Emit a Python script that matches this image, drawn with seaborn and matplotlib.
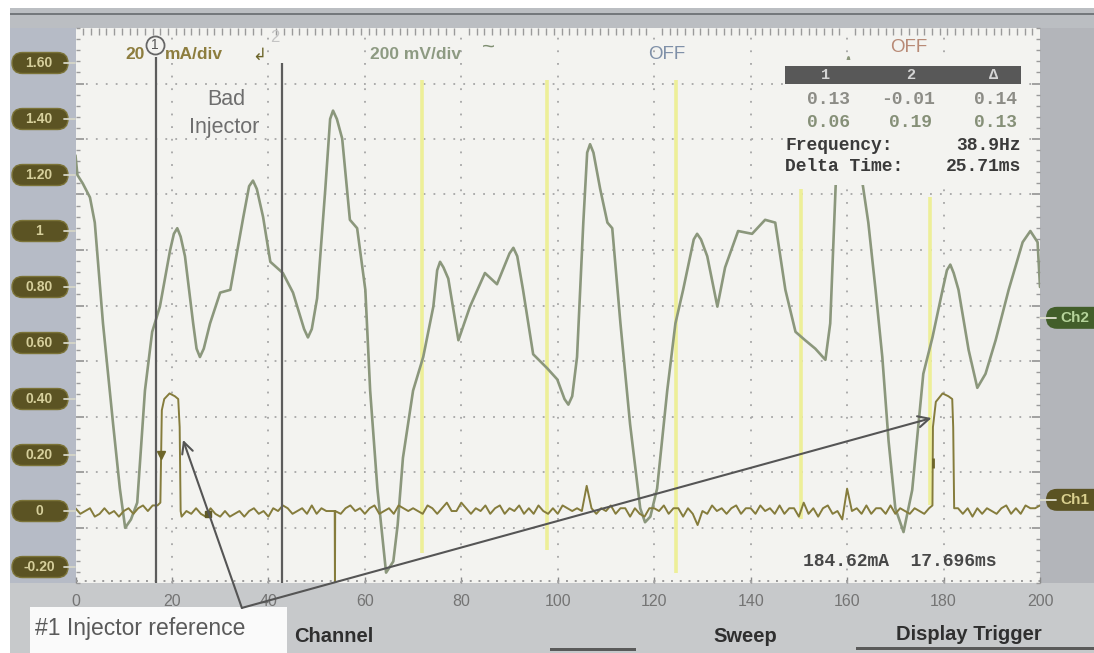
import numpy as np
import matplotlib
matplotlib.use("Agg")
import matplotlib.pyplot as plt
import seaborn as sns
from matplotlib.patches import Rectangle, FancyBboxPatch
from matplotlib.lines import Line2D
from matplotlib.transforms import IdentityTransform
from matplotlib.ticker import FixedLocator, MultipleLocator

# ---------------- data ----------------
ch2_x = [0.0, 0.4, 1.5, 3.0, 4.0, 5.7, 7.8, 9.2, 10.3, 11.5, 12.8, 14.4, 15.9, 17.5,
         19.6, 20.4, 21.1, 21.8, 22.7, 24.4, 25.1, 25.8, 26.6, 27.9, 30.0, 32.1, 34.8,
         36.0, 36.8, 37.6, 38.9, 40.4, 43.0, 45.1, 47.4, 48.2, 49.0, 50.1, 51.8, 52.8,
         53.4, 54.2, 55.3, 56.9, 58.4, 60.1, 61.1, 62.6, 64.4, 65.9, 66.8, 67.9, 70.0,
         72.1, 74.2, 75.0, 75.6, 76.3, 77.3, 79.4, 81.8, 84.9, 87.4, 90.0, 90.8, 91.6,
         92.8, 94.9, 97.8, 99.9, 101.4, 102.2, 103.0, 104.0, 105.3, 106.1, 106.7, 107.4,
         108.8, 110.3, 111.3, 113.0, 115.0, 117.1, 118.1, 119.2, 120.6, 122.7, 124.4,
         126.0, 128.2, 128.9, 129.7, 131.0, 133.1, 134.7, 137.4, 140.3, 143.0, 145.1,
         147.2, 149.3, 151.3, 153.4, 155.5, 156.5, 157.6, 158.5, 160.3, 162.3, 163.2,
         164.4, 165.9, 167.3, 168.6, 170.0, 171.7, 173.5, 174.8, 175.8, 177.7, 179.8,
         180.7, 181.4, 182.1, 183.1, 185.2, 187.0, 188.7, 190.8, 193.5, 196.4, 198.0,
         199.5, 200.0]
ch2_v = [1.27, 1.20, 1.17, 1.12, 1.03, 0.67, 0.31, 0.08, -0.06, -0.03, 0.03, 0.43, 0.64, 0.73,
         0.93, 0.99, 1.01, 0.98, 0.91, 0.67, 0.58, 0.55, 0.58, 0.67, 0.78, 0.79, 1.05,
         1.16, 1.18, 1.15, 1.05, 0.89, 0.85, 0.78, 0.65, 0.62, 0.65, 0.76, 1.15, 1.40,
         1.43, 1.40, 1.33, 1.04, 1.01, 0.79, 0.43, 0.08, -0.22, -0.18, -0.05, 0.19, 0.43,
         0.55, 0.73, 0.86, 0.89, 0.87, 0.83, 0.61, 0.73, 0.85, 0.81, 0.92, 0.94, 0.91,
         0.79, 0.56, 0.51, 0.47, 0.40, 0.38, 0.41, 0.55, 1.03, 1.28, 1.31, 1.28,
         1.15, 1.03, 1.01, 0.67, 0.31, 0.01, -0.04, -0.02, 0.08, 0.43, 0.67,
         0.79, 0.97, 0.99, 0.97, 0.91, 0.73, 0.87, 1.00, 0.99, 1.04, 1.03,
         0.79, 0.64, 0.61, 0.58, 0.54, 0.67, 1.15, 1.50, 1.62, 1.45, 1.17,
         1.03, 0.79, 0.55, 0.25, 0.01, -0.075, 0.075, 0.31, 0.49, 0.62, 0.79,
         0.86, 0.88, 0.85, 0.79, 0.575, 0.44, 0.49, 0.61, 0.79, 0.96, 1.00,
         0.96, 0.80]

# Ch1 (injector current): noisy baseline segments sampled every 1 unit + pulses
seg_a = [0.01, -0.01, 0.00, 0.01, -0.02, -0.01, 0.01, -0.01, 0.00, -0.02, 0.00, 0.01,
         -0.01, 0.01, 0.02, 0.00, 0.02, 0.02]                                    # x 0..17
pulse1_x = [17.6, 17.75, 17.9, 18.4, 19.5, 20.6, 21.3, 21.6, 21.8]
pulse1_v = [0.03, 0.20, 0.36, 0.40, 0.42, 0.41, 0.40, 0.30, 0.00]
seg_b = [-0.02, 0.00, -0.01, 0.01, -0.01, -0.02, 0.01, -0.01, -0.02, 0.00, -0.02, -0.01,
         0.00, -0.02, 0.00, 0.01, -0.01, 0.00, -0.02, 0.01, 0.00, 0.02, 0.01, -0.01,
         0.00, 0.01, -0.01, 0.02, -0.01, 0.01, 0.00, 0.00]                       # x 22..53
spike_x = [53.75, 53.8, 53.85]
spike_v = [0.00, -0.27, 0.00]
seg_c = [-0.01, 0.01, 0.02, 0.00, 0.01, -0.01, 0.01, 0.02, -0.01, 0.00,
         0.01, -0.01, 0.02, 0.01, 0.00, 0.01, 0.00, -0.01, 0.02, 0.01,
         -0.01, 0.01, 0.03, 0.00, 0.00, 0.03, 0.01, -0.01, 0.01, 0.00,
         0.02, -0.01, 0.01, 0.02, -0.01, 0.01, 0.00, 0.02, -0.01, 0.01,
         -0.01, 0.02, 0.00, -0.01, 0.01, -0.01, 0.02, 0.01, 0.00, 0.01,
         0.00, 0.09, 0.01, -0.01, 0.01, 0.00, 0.02, -0.01, 0.01, 0.01,
         -0.02, 0.01, -0.01, -0.02, 0.01, 0.01, 0.00, 0.02, -0.01, 0.01,
         0.01, -0.02, 0.01, -0.01, -0.05, 0.00, -0.01, 0.02, 0.00, 0.01,
         -0.01, 0.01, 0.02, -0.01, 0.01, 0.01, -0.01, 0.02, 0.00, 0.01,
         -0.01, 0.02, -0.01, 0.01, 0.01, -0.02, 0.03, -0.01, 0.01, -0.02,
         0.01, 0.02, -0.01, 0.00, -0.03, 0.08, 0.00, 0.01, -0.01, 0.02,
         -0.01, 0.01, 0.01, -0.01, 0.02, -0.01, 0.01, 0.00, -0.01, 0.01,
         0.00, -0.01, 0.01]                                                        # x 55..177
pulse2_x = [177.7, 177.8, 178.0, 178.4, 179.8, 181.0, 181.8, 182.0, 182.2]
pulse2_v = [0.02, 0.30, 0.33, 0.39, 0.42, 0.41, 0.40, 0.30, 0.01]
seg_d = [0.01, -0.01, 0.01, -0.02, 0.01, -0.01, 0.01, 0.00, -0.01, 0.01, 0.02, -0.01,
         0.01, -0.01, 0.02, 0.01, 0.01, 0.02]                                    # x 183..200

y_label_vals = [1.6, 1.4, 1.2, 1.0, 0.8, 0.6, 0.4, 0.2, 0.0, -0.2]
y_labels = ["1.60", "1.40", "1.20", "1", "0.80", "0.60", "0.40", "0.20", "0", "-0.20"]
x_ticks = [0, 20, 40, 60, 80, 100, 120, 140, 160, 180, 200]

cursor_x = [16.7, 42.8]
cursor_top = [1.62, 1.60]
yellow_x = [71.9, 97.7, 124.6, 150.4, 177.1]
yellow_lo = [-0.15, -0.14, -0.22, -0.03, 0.02]
yellow_hi = [1.54, 1.54, 1.54, 1.15, 1.12]

# ---------------- figure ----------------
sns.set_theme(style="white")
plt.rcParams['font.family'] = ['Liberation Sans', 'DejaVu Sans']

W, H = 1094, 653
fig = plt.figure(figsize=(W / 100, H / 100), dpi=100)
fig.patch.set_facecolor('white')
ID = IdentityTransform()


def frect(x0, y0, x1, y1, color, z=-10):
    fig.add_artist(Rectangle((x0, H - y1), x1 - x0, y1 - y0, transform=ID,
                             facecolor=color, edgecolor='none', zorder=z))


frect(10, 8, 1094, 653, '#c4c6c9')
frect(10, 8, 1094, 28, '#bbbec2')
frect(10, 13, 1094, 15, '#74787c')
frect(10, 28, 76, 583, '#b6bbc6')
frect(1040, 28, 1094, 583, '#b3b5ba')
frect(10, 583, 1094, 653, '#c7c9cb')
frect(550, 648, 636, 651, '#5a5a5a')
frect(856, 647, 1094, 650, '#5a5a5a')
frect(30, 607, 287, 653, '#fafafa', z=-5)

ylo, yhi = -0.257, 1.725
ax = fig.add_axes([75.5 / W, 1 - 583 / H, (1040 - 75.5) / W, (583 - 28) / H])
bg = '#f3f3f0'
ax.set_facecolor(bg)
ax.set_xlim(0, 200)
ax.set_ylim(ylo, yhi)
for s in ax.spines.values():
    s.set_visible(False)

ydiv = np.linspace(ylo, yhi, 11)
for y in ydiv[1:-1]:
    ax.axhline(y, color='#a6a6a6', lw=1.3, ls=(0, (1, 4.5)), zorder=1)
ax.axhline(ylo + 0.008, color='#9a9a9a', lw=1.4, ls=(0, (1, 3.5)), zorder=1)
for x in x_ticks[1:-1]:
    ax.axvline(x, color='#a6a6a6', lw=1.3, ls=(0, (1, 6)), zorder=1)

ax.vlines(yellow_x, yellow_lo, yellow_hi, colors='#edef98', lw=2.6, zorder=2)

ch1_x = (list(np.arange(0, 18)) + pulse1_x + list(np.arange(22, 54)) + spike_x +
         list(np.arange(55, 178)) + pulse2_x + list(np.arange(183, 201)))
ch1_v = seg_a + pulse1_v + seg_b + spike_v + seg_c + pulse2_v + seg_d

sns.lineplot(x=ch2_x, y=ch2_v, ax=ax, color='#8b977c', lw=1.9, sort=False,
             estimator=None, zorder=3, solid_joinstyle='round')
sns.lineplot(x=ch1_x, y=ch1_v, ax=ax, color='#857c3c', lw=1.4, sort=False,
             estimator=None, zorder=3.5)
ax.plot([17.75], [0.20], marker='v', ms=6, color='#6d6529', zorder=4)
ax.plot([27.4], [-0.01], marker='s', ms=4, color='#5f5a28', zorder=4)
ax.plot([177.75], [0.17], marker='|', ms=7, mew=2, color='#6d6529', zorder=4)

ax.vlines(cursor_x, ylo, cursor_top, colors='#5c5c5c', lw=1.6, zorder=4)

# info box mask + header
ax.add_patch(Rectangle((146.8, 1.164), 49.8, 0.446, facecolor=bg, edgecolor='none', zorder=4.5))
ax.add_patch(Rectangle((147.2, 1.525), 48.8, 0.064, facecolor='#585858', edgecolor='none', zorder=5))

mono = dict(family=['Liberation Mono', 'DejaVu Sans Mono'], fontweight='bold', zorder=6)
for xx, t in zip([155.5, 173.1, 190.4], ['1', '2', 'Δ']):
    ax.text(xx, 1.557, t, ha='center', va='center', color='#d4d4d4', fontsize=11, **mono)
for xx, t in zip([156.1, 172.7, 190.8], ['0.13', '-0.01', '0.14']):
    ax.text(xx, 1.468, t, ha='center', va='center', color='#8c8c86', fontsize=13, **mono)
for xx, t in zip([156.1, 173.1, 190.8], ['0.06', '0.19', '0.13']):
    ax.text(xx, 1.389, t, ha='center', va='center', color='#869078', fontsize=13, **mono)
ax.text(147.2, 1.307, 'Frequency:', ha='left', va='center', color='#3a3a3a', fontsize=13, **mono)
ax.text(196.0, 1.307, '38.9Hz', ha='right', va='center', color='#3a3a3a', fontsize=13, **mono)
ax.text(147.2, 1.229, 'Delta Time:', ha='left', va='center', color='#3a3a3a', fontsize=13, **mono)
ax.text(196.0, 1.229, '25.71ms', ha='right', va='center', color='#3a3a3a', fontsize=13, **mono)
ax.text(150.9, -0.182, '184.62mA  17.696ms', ha='left', va='center', color='#484848',
        fontsize=13, **mono)

# top status texts
ax.text(10.3, 1.629, '20', ha='left', va='center', color='#8d7d3e', fontsize=12.5,
        fontweight='bold', zorder=6)
ax.text(18.6, 1.629, 'mA/div', ha='left', va='center', color='#8d7d3e', fontsize=12.5,
        fontweight='bold', zorder=6)
ax.plot([16.5], [1.664], marker='o', ms=13, mfc=bg, mec='#666666', mew=1.3, zorder=6)
ax.text(16.5, 1.664, '1', ha='center', va='center', color='#555555', fontsize=10, zorder=7)
ax.text(38.0, 1.628, '↲', ha='center', va='center', color='#6b6428', fontsize=12,
        family='DejaVu Sans', zorder=6)
ax.text(41.4, 1.69, '2', ha='center', va='center', color='#c4c4c4', fontsize=12, zorder=6)
ax.text(61.1, 1.629, '200 mV/div', ha='left', va='center', color='#8d9a82', fontsize=12.5,
        fontweight='bold', zorder=6)
ax.text(85.6, 1.655, '~', ha='center', va='center', color='#7f8f72', fontsize=16, zorder=6)
ax.text(118.8, 1.629, 'OFF', ha='left', va='center', color='#7f90a8', fontsize=13.5, zorder=6)
ax.text(169.0, 1.654, 'OFF', ha='left', va='center', color='#b88a76', fontsize=13.5, zorder=6)

ax.text(31.2, 1.468, 'Bad', ha='center', va='center', color='#6e6e6e', fontsize=15.5, zorder=6)
ax.text(30.8, 1.368, 'Injector', ha='center', va='center', color='#6e6e6e', fontsize=15.5, zorder=6)

# arrows from label to the two injector pulses
for tip in [(22.3, 0.254), (177.5, 0.332)]:
    ax.annotate('', xy=tip, xytext=(34.5, -0.346), annotation_clip=False,
                arrowprops=dict(arrowstyle='->', color='#555555', lw=1.5, shrinkA=0,
                                shrinkB=0, mutation_scale=20, clip_on=False), zorder=6)

# ticks
ax.set_xticks(x_ticks)
ax.set_xticklabels([str(t) for t in x_ticks])
ax.xaxis.set_minor_locator(MultipleLocator(1.6))
ax.tick_params(axis='x', which='major', labelsize=11.5, labelcolor='#747474', pad=8,
               length=4, width=1, direction='in', color='#8a8a8a', bottom=True, top=False)
ax.tick_params(axis='x', which='minor', length=5, width=1, direction='in', color='#9a9a9a',
               bottom=False, top=True)
ax.yaxis.set_major_locator(FixedLocator(list(ydiv[1:-1])))
ax.yaxis.set_minor_locator(FixedLocator(list(np.linspace(ylo, yhi, 51))))
ax.set_yticklabels([])
ax.tick_params(axis='y', which='major', length=6, width=1.1, direction='in', color='#8a8a8a',
               left=True, right=True)
ax.tick_params(axis='y', which='minor', length=3, width=1, direction='in', color='#9a9a9a',
               left=True, right=True)

# left value pills
for lab, val in zip(y_labels, y_label_vals):
    yd = ax.transData.transform((0, val))[1]
    fig.add_artist(FancyBboxPatch((12, yd - 10.5), 56, 21,
                                  boxstyle='round,pad=0,rounding_size=10.5', transform=ID,
                                  facecolor='#5b5323', edgecolor='#7b7338', lw=1, zorder=1))
    fig.add_artist(Line2D([64, 75], [yd, yd], transform=ID, color='#d6d6c8', lw=1.3, zorder=2))
    fig.text(39, yd, lab, transform=ID, ha='center', va='center', color='#d6cf9c',
             fontsize=10, fontweight='bold', zorder=3)

# right channel pills
for lab, val, fc, tc in [('Ch2', 0.69, '#425e2a', '#b5d39a'), ('Ch1', 0.04, '#5b5323', '#d9cf8e')]:
    yd = ax.transData.transform((0, val))[1]
    fig.add_artist(FancyBboxPatch((1046, yd - 11), 62, 22,
                                  boxstyle='round,pad=0,rounding_size=11', transform=ID,
                                  facecolor=fc, edgecolor='none', zorder=1))
    fig.add_artist(Line2D([1040, 1056], [yd, yd], transform=ID, color='#e0e0d0', lw=1.3, zorder=2))
    fig.text(1075, yd, lab, transform=ID, ha='center', va='center', color=tc,
             fontsize=11, fontweight='bold', zorder=3)

# bottom texts
fig.text(35, H - 628, '#1 Injector reference', transform=ID, ha='left', va='center',
         color='#5a5a5a', fontsize=16.5)
for t, xc, yc in [('Channel', 334, 637), ('Sweep', 745, 637), ('Display Trigger', 969, 635)]:
    fig.text(xc, H - yc, t, transform=ID, ha='center', va='center', color='#2f2f2f',
             fontsize=14.5, fontweight='bold')

fig.savefig('out.png', dpi=100)
